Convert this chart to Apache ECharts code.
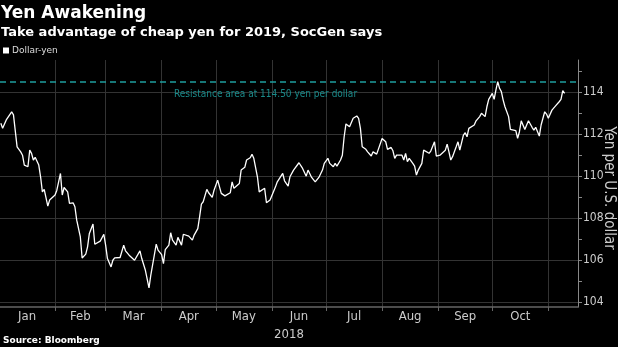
<!DOCTYPE html>
<html><head><meta charset="utf-8">
<script src="https://cdn.jsdelivr.net/npm/echarts@6/dist/echarts.min.js"></script>
<style>html,body{margin:0;padding:0;background:#000;}#c{width:618px;height:347px;}</style>
</head><body><div id="c"></div>
<script>
const year = 2018;
const dates = ['01-02','01-03','01-05','01-08','01-09','01-11','01-13','01-14','01-15','01-17','01-18','01-19','01-20','01-21','01-23','01-24','01-25','01-26','01-28','01-29','01-30',
'02-01','02-02','02-04','02-05','02-06','02-08','02-09','02-11','02-12','02-13','02-15','02-16','02-18','02-19','02-20','02-22','02-23','02-24','02-26','02-28',
'03-01','03-02','03-04','03-05','03-06','03-07','03-09','03-11','03-12','03-13','03-14','03-15','03-17','03-18','03-20','03-21','03-23','03-25','03-26','03-27','03-29','03-30',
'04-01','04-02','04-03','04-05','04-06','04-07','04-09','04-10','04-12','04-13','04-14','04-16','04-18','04-19','04-21','04-22','04-23','04-24','04-26','04-27','04-29','04-30',
'05-02','05-03','05-04','05-06','05-07','05-09','05-10','05-11','05-12','05-14','05-15','05-17','05-18','05-20','05-21','05-22','05-24','05-25','05-26','05-28','05-29','05-31',
'06-01','06-03','06-04','06-05','06-07','06-08','06-10','06-11','06-13','06-14','06-16','06-17','06-18','06-20','06-21','06-23','06-24','06-25','06-27','06-29','06-30',
'07-02','07-03','07-05','07-06','07-07','07-09','07-10','07-11','07-12','07-14','07-15','07-16','07-18','07-19','07-20','07-21','07-23','07-24','07-26','07-27','07-29','07-30',
'08-01','08-02','08-03','08-04','08-06','08-07','08-08','08-09','08-10','08-12','08-13','08-14','08-15','08-16','08-18','08-19','08-20','08-21','08-23','08-24','08-25','08-27','08-28','08-29','08-30','08-31',
'09-02','09-03','09-05','09-06','09-07','09-08','09-09','09-10','09-11','09-12','09-13','09-15','09-16','09-17','09-18','09-19','09-21','09-22','09-24','09-25','09-27','09-28','09-29',
'10-01','10-02','10-03','10-04','10-05','10-06','10-07','10-08','10-10','10-11','10-12','10-14','10-15','10-16','10-17','10-19','10-20','10-21','10-23','10-24','10-25','10-27','10-28','10-30','10-31',
'11-01','11-03','11-04','11-05','11-07','11-08','11-09','11-10'];
const values = [112.52,112.28,112.68,113.07,112.92,111.40,111.16,111.00,110.53,110.45,111.24,111.09,110.77,110.90,110.53,109.97,109.25,109.37,108.57,108.86,108.78,
109.10,109.33,110.13,109.10,109.46,109.25,108.70,108.73,108.54,107.90,107.10,106.10,106.28,106.63,107.27,107.72,106.75,106.79,106.90,107.23,
106.71,106.07,105.67,105.99,106.10,106.02,106.12,106.71,106.44,106.50,106.23,106.28,105.99,106.02,106.44,106.07,105.51,104.67,105.28,105.31,106.76,106.47,
106.26,105.83,106.50,106.71,107.30,106.95,106.71,107.08,106.71,107.23,107.30,107.14,106.95,107.19,107.50,108.06,108.67,108.78,109.37,109.21,108.99,109.33,
109.81,109.73,109.18,109.06,109.05,109.21,109.73,109.42,109.33,109.65,110.29,110.42,110.77,110.88,111.04,110.85,109.97,109.25,109.33,109.42,108.73,108.86,
108.82,109.49,109.73,109.78,110.13,109.78,109.53,109.97,110.29,110.37,110.64,110.61,110.37,110.00,110.29,109.94,109.89,109.73,109.94,110.29,110.61,
110.85,110.61,110.45,110.61,110.48,110.77,111.00,111.88,112.49,112.36,112.28,112.76,112.87,112.76,112.28,111.40,111.28,111.16,110.96,111.16,111.05,111.05,
111.80,111.72,111.64,111.28,111.37,111.21,110.85,111.00,110.93,111.00,110.77,111.09,110.69,110.85,110.61,110.48,110.05,110.29,110.61,111.24,111.32,111.09,111.21,111.28,111.64,110.96,
111.00,111.00,111.24,111.53,111.16,110.77,110.93,111.00,111.40,111.64,111.24,111.96,112.07,111.88,112.28,112.36,112.44,112.64,112.84,113.00,112.84,113.31,113.66,
113.95,113.66,114.11,114.51,114.19,114.03,113.63,113.31,112.84,112.23,112.20,112.17,111.80,112.12,112.64,112.23,112.44,112.64,112.33,112.20,112.33,111.91,112.44,113.07,112.96,
112.76,113.15,113.19,113.35,113.55,113.66,114.08,113.95];
const monthLabels = ['Jan','Feb','Mar','Apr','May','Jun','Jul','Aug','Sep','Oct'];
const yTicks = [104,106,108,110,112,114];
const yMinorTicks = [105,107,109,111,113,115];
const resistance = 114.5;
const yAxisTitle = 'Yen per U.S. dollar';
const annotationText = 'Resistance area at 114.50 yen per dollar';
const annotationDate = [5, 28, 12]; // month, day, hour
const annotationValue = 113.87;
const yRange = [103.76, 115.54];

function ts(m, d, h) { return new Date(year, m - 1, d, h || 0).getTime(); }
const xRange = [ts(1, 1, 13), ts(11, 17, 10)];
const monthStarts = [];
for (let m = 1; m <= monthLabels.length + 1; m++) monthStarts.push(ts(m, 1));
const monthMids = [];
for (let m = 0; m < monthLabels.length; m++) monthMids.push((monthStarts[m] + monthStarts[m+1]) / 2);
const seriesData = dates.map((d, i) => {
  const p = d.split('-').map(Number);
  return [ts(p[0], p[1]), values[i]];
});

const NARROW = '"Liberation Sans Narrow", "DejaVu Sans Condensed", "Liberation Sans", sans-serif';
const BOLD = '"DejaVu Sans", sans-serif';

const chart = echarts.init(document.getElementById('c'));
chart.setOption({
  backgroundColor: '#000',
  animation: false,
  grid: { left: 0, right: 40, top: 60, bottom: 40, containLabel: false, outerBoundsMode: 'none' },
  legend: {
    data: ['Dollar-yen'], left: 3, top: 46, padding: 0, icon: 'rect', itemWidth: 6, itemHeight: 6, itemGap: 4,
    textStyle: { color: '#ddd', fontSize: 9, fontFamily: BOLD, padding: [0,0,0,-2] }
  },
  graphic: [
    { type: 'text', left: 1, top: 5, style: { text: 'Yen Awakening', fill: '#fff', font: 'bold 17px ' + BOLD } },
    { type: 'text', left: 1, top: 26, style: { text: 'Take advantage of cheap yen for 2019, SocGen says', fill: '#fff', font: 'bold 13px ' + BOLD } },
    { type: 'text', left: 3, top: 336, style: { text: 'Source: Bloomberg', fill: '#fff', font: 'bold 9px ' + BOLD } },
    { type: 'text', x: 609, y: 188, rotation: -Math.PI / 2,
      style: { text: yAxisTitle, fill: '#ccc', font: '15px ' + NARROW, align: 'center', verticalAlign: 'middle' } }
  ],
  xAxis: {
    type: 'value', min: xRange[0], max: xRange[1],
    axisLine: { show: true, lineStyle: { color: '#666', width: 1.5 } },
    axisTick: { show: true, customValues: monthStarts, length: 4, lineStyle: { color: '#666' } },
    axisLabel: { customValues: monthMids, formatter: v => monthLabels[new Date(v).getMonth()], color: '#ccc', fontSize: 13, margin: 3, fontFamily: NARROW },
    splitLine: { show: true, lineStyle: { color: '#333', width: 1 } },
    name: String(year), nameLocation: 'middle', nameGap: 16, nameTextStyle: { color: '#ccc', fontSize: 13, fontFamily: NARROW }
  },
  yAxis: [{
    type: 'value', position: 'right', min: yRange[0], max: yRange[1],
    axisLine: { show: true, lineStyle: { color: '#888' } },
    axisTick: { show: true, customValues: yTicks, length: 4, lineStyle: { color: '#888' } },
    axisLabel: { customValues: yTicks, color: '#ccc', fontSize: 12, margin: 5, fontFamily: NARROW },
    splitLine: { show: true, lineStyle: { color: '#333' } }
  }, {
    type: 'value', position: 'right', min: yRange[0], max: yRange[1],
    axisLine: { show: false },
    axisTick: { show: true, customValues: yMinorTicks, length: 4, lineStyle: { color: '#888' } },
    axisLabel: { show: false },
    splitLine: { show: false }
  }],
  series: [{
    name: 'Dollar-yen', type: 'line', yAxisIndex: 0,
    data: seriesData,
    showSymbol: false, symbol: 'none',
    lineStyle: { color: '#fff', width: 1.3 }, itemStyle: { color: '#fff' },
    markLine: {
      silent: true, symbol: 'none', label: { show: false },
      lineStyle: { color: '#1f9e9e', type: [6, 4], width: 1.5 },
      data: [{ yAxis: resistance }]
    },
    markPoint: {
      silent: true, symbolSize: 1, itemStyle: { color: 'rgba(0,0,0,0)' },
      label: { show: true, position: 'inside', formatter: annotationText, color: '#1a8a8a', fontSize: 10, fontFamily: NARROW },
      data: [{ coord: [ts(annotationDate[0], annotationDate[1], annotationDate[2]), annotationValue] }]
    }
  }]
});
</script></body></html>
